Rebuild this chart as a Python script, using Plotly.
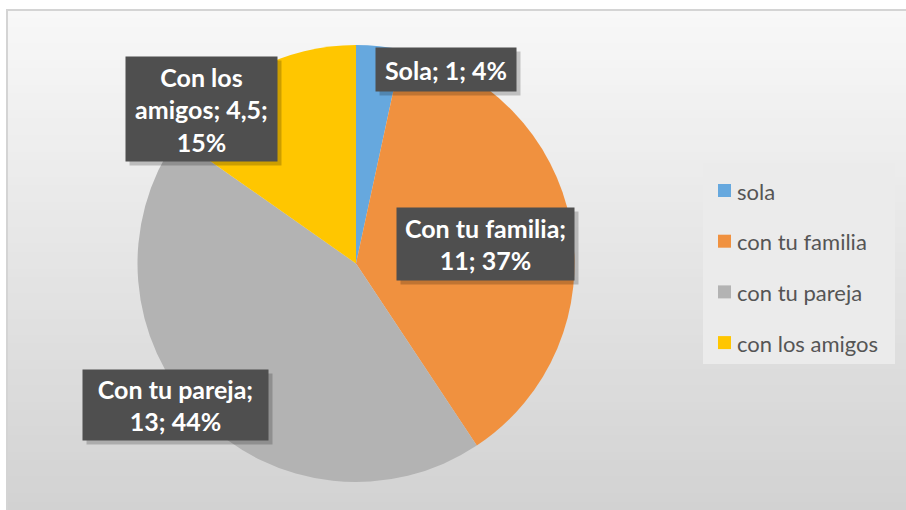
import math
import plotly.graph_objects as go

# ---------------- data ----------------
categories = ["sola", "con tu familia", "con tu pareja", "con los amigos"]
values = [1, 11, 13, 4.5]
label_names = ["Sola", "Con tu familia", "Con tu pareja", "Con los amigos"]
value_text = ["1", "11", "13", "4,5"]
percent_text = ["4%", "37%", "44%", "15%"]
colors = ["#66A8DE", "#F0913F", "#B3B3B3", "#FFC600"]

W, H = 906, 510

def px(x):
    return x / W

def py(y):
    return 1 - y / H

# pie geometry (pixels)
cx, cy, R = 356, 263.5, 218.5

fig = go.Figure()
fig.add_trace(go.Pie(
    labels=categories, values=values, sort=False, direction="clockwise",
    rotation=0, textinfo="none", hoverinfo="label+value+percent",
    marker=dict(colors=colors, line=dict(width=0)),
    domain=dict(x=[px(cx - R), px(cx + R)], y=[py(cy + R), py(cy - R)]),
    showlegend=False,
))

shapes = []
# background gradient strips
top, bottom = 10, H
n = 60
c0, c1 = 248, 210
for i in range(n):
    y0 = top + (bottom - top) * i / n
    y1 = top + (bottom - top) * (i + 1) / n + 1
    c = round(c0 + (c1 - c0) * (i + 0.5) / n)
    shapes.append(dict(type="rect", xref="paper", yref="paper", layer="below",
                       x0=px(7), x1=1.01, y0=py(y1), y1=py(y0),
                       fillcolor=f"rgb({c},{c},{c})", line=dict(width=0)))
shapes.append(dict(type="rect", xref="paper", yref="paper", layer="below",
                   x0=px(7), x1=1.02, y0=-0.02, y1=py(10),
                   fillcolor="rgba(0,0,0,0)", line=dict(color="#d4d4d4", width=2)))

# legend (manual, to match spacing)
shapes.append(dict(type="rect", xref="paper", yref="paper", layer="below",
                   x0=px(703), x1=px(895), y0=py(364), y1=py(163),
                   fillcolor="#ebebeb", line=dict(width=0)))
annotations = []
leg_y0, leg_dy = 190, 50.7
for i, (cat, col) in enumerate(zip(categories, colors)):
    yc = leg_y0 + i * leg_dy
    shapes.append(dict(type="rect", xref="paper", yref="paper",
                       x0=px(718), x1=px(731), y0=py(yc + 7), y1=py(yc - 6),
                       fillcolor=col, line=dict(width=0)))
    annotations.append(dict(xref="paper", yref="paper", x=px(735), y=py(yc + 1),
                            xanchor="left", yanchor="middle", showarrow=False,
                            text=cat, font=dict(family="Lato", size=22, color="#555555")))

# data labels: polar placement (angle clockwise from top, radius factor) + box size
label_layout = [
    dict(ang=25, rf=0.98, w=140, h=43),
    dict(ang=81.5, rf=0.60, w=177, h=72),
    dict(ang=232, rf=1.05, w=185, h=70),
    dict(ang=315, rf=1.0, w=151, h=104),
]
for i, lay in enumerate(label_layout):
    if i == 3:
        text = "Con los<br>amigos; " + value_text[i] + ";<br>" + percent_text[i]
    elif i == 0:
        text = f"{label_names[i]}; {value_text[i]}; {percent_text[i]}"
    else:
        text = f"{label_names[i]};<br>{value_text[i]}; {percent_text[i]}"
    a = math.radians(lay["ang"])
    lx = cx + lay["rf"] * R * math.sin(a)
    ly = cy - lay["rf"] * R * math.cos(a)
    # shadow
    annotations.append(dict(xref="paper", yref="paper", x=px(lx + 4), y=py(ly + 4),
                            xanchor="center", yanchor="middle", showarrow=False,
                            text=" ", width=lay["w"], height=lay["h"], borderpad=0,
                            bgcolor="rgba(0,0,0,0.2)"))
    annotations.append(dict(xref="paper", yref="paper", x=px(lx), y=py(ly),
                            xanchor="center", yanchor="middle", showarrow=False,
                            text=f"<b>{text}</b>", width=lay["w"], height=lay["h"],
                            borderpad=0, bgcolor="#4f4f4f", align="center",
                            font=dict(family="Lato", size=25, color="white")))

fig.update_layout(
    width=W, height=H, margin=dict(l=0, r=0, t=0, b=0),
    paper_bgcolor="white", plot_bgcolor="white",
    shapes=shapes, annotations=annotations, showlegend=False,
)
fig.write_html("out.html", config={"displayModeBar": False},
               post_script="document.body.style.margin='0';document.body.style.overflow='hidden';")
